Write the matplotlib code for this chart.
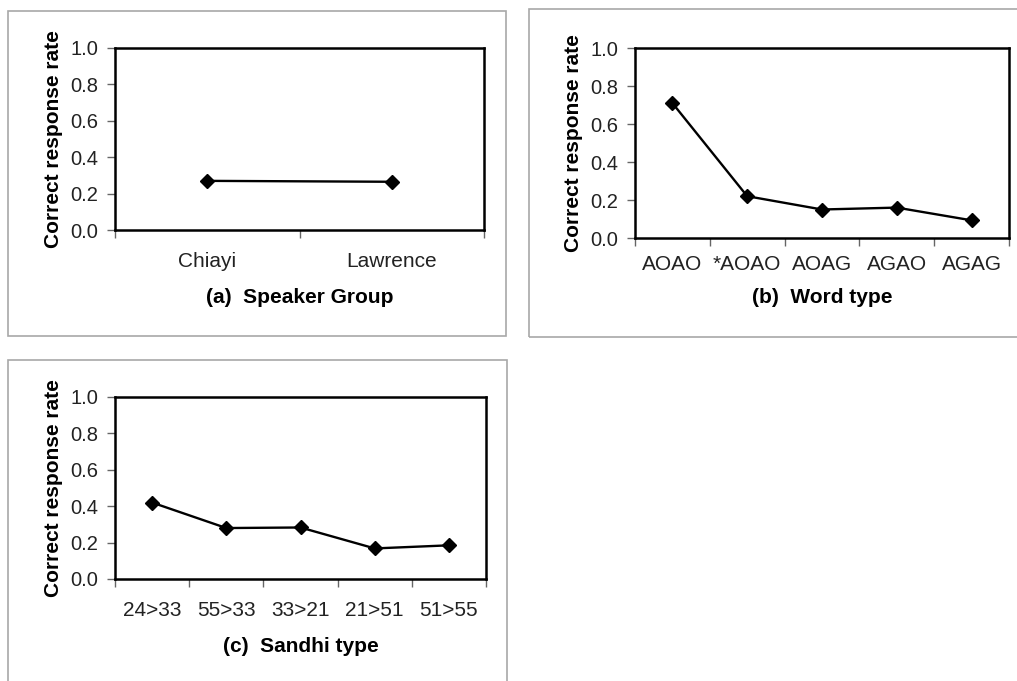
import matplotlib.pyplot as plt
from matplotlib.patches import Rectangle
from matplotlib.ticker import FormatStrFormatter

plt.rcParams['font.family'] = ['Liberation Sans', 'DejaVu Sans']

speaker_groups = ['Chiayi', 'Lawrence']
speaker_rates = [0.27, 0.265]

word_types = ['AOAO', '*AOAO', 'AOAG', 'AGAO', 'AGAG']
word_rates = [0.71, 0.22, 0.15, 0.16, 0.093]

sandhi_types = ['24>33', '55>33', '33>21', '21>51', '51>55']
sandhi_rates = [0.42, 0.28, 0.283, 0.168, 0.185]

W, H = 1017, 681
fig = plt.figure(figsize=(W / 100, H / 100), dpi=100)


def px_rect(x0, y0, x1, y1):
    return [x0 / W, 1 - y1 / H, (x1 - x0) / W, (y1 - y0) / H]


# grey frames around the three panels
for box in [(8, 11, 506, 336), (529, 9, 1022, 337), (8, 360, 507, 690)]:
    l, b, w, h = px_rect(*box)
    fig.add_artist(Rectangle((l, b), w, h, transform=fig.transFigure,
                             fill=False, edgecolor='#a8a8a8', linewidth=1.2))


def panel(rect, cats, vals, xlabel, xpad, lpad):
    ax = fig.add_axes(px_rect(*rect))
    n = len(cats)
    pos = [i + 0.5 for i in range(n)]
    ax.plot(pos, vals, color='black', lw=1.7, marker='D', ms=7.5)
    ax.set_xlim(0, n)
    ax.set_ylim(0, 1)
    ax.set_yticks([0, 0.2, 0.4, 0.6, 0.8, 1.0])
    ax.yaxis.set_major_formatter(FormatStrFormatter('%.1f'))
    ax.set_xticks(range(n + 1))
    ax.set_xticklabels([])
    ax.set_xticks(pos, minor=True)
    ax.set_xticklabels(cats, minor=True)
    ax.tick_params(axis='x', which='minor', length=0, pad=xpad,
                   labelsize=15, labelcolor='#222222')
    ax.tick_params(axis='x', which='major', length=5.5, width=1,
                   color='#666666')
    ax.tick_params(axis='y', length=5.5, width=1, color='#666666',
                   labelsize=14.5, labelcolor='#222222', pad=6.5)
    for s in ax.spines.values():
        s.set_linewidth(1.8)
    ax.set_ylabel('Correct response rate', fontsize=15, fontweight='bold',
                  labelpad=5)
    ax.set_xlabel(xlabel, fontsize=15, fontweight='bold', labelpad=lpad)
    return ax


panel((115, 48, 484, 230), speaker_groups, speaker_rates,
      '(a)  Speaker Group', 15.5, 12.5)
panel((635, 48, 1009, 238), word_types, word_rates, '(b)  Word type',
      12, 10.5)
panel((115, 397, 486, 579), sandhi_types, sandhi_rates,
      '(c)  Sandhi type', 15.5, 12.5)

fig.savefig('out.png', dpi=100)
